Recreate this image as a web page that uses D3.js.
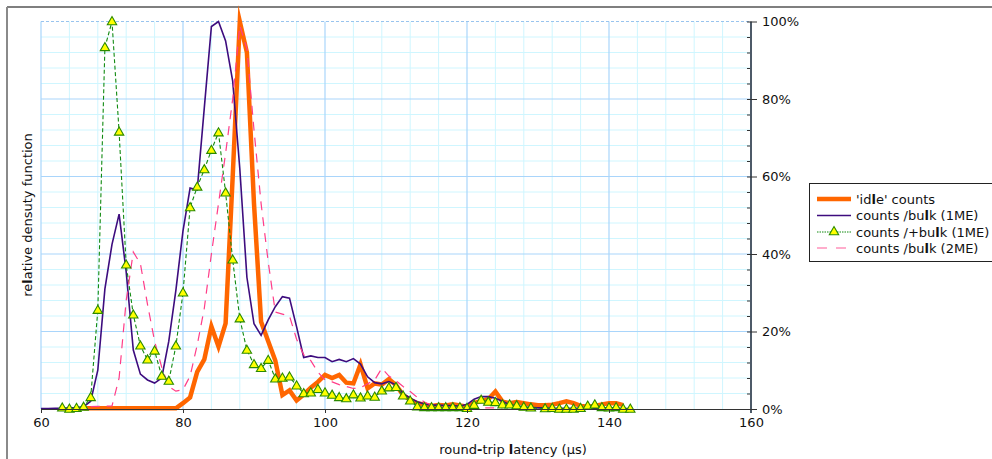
<!DOCTYPE html>
<html>
<head>
<meta charset="utf-8">
<script src="https://cdn.jsdelivr.net/npm/d3@7"></script>
<style>
  html, body { margin: 0; padding: 0; background: #fff; }
  svg { display: block; font-family: "DejaVu Sans", sans-serif; }
</style>
</head>
<body>
<svg id="chart" width="992" height="459"></svg>
<script>
// Latency bins, 1 µs wide, 60 … 143 µs
const latencyBins = d3.range(60, 144);

// Relative density (% of each series' peak) per bin; null = no sample
const idleCounts = [
  null, null, null, null, null, null,
  0.2, 0.2, 0.2, 0.2, 0.2, 0.2, 0.2, 0.2, 0.2, 0.2, 0.2, 0.2, 0.2, 0.2,
  1.5, 3, 9.6, 12.8, 21.3, 16.1, 22.1, 60, 100, 92,
  53, 22.5, 17.5, 12.5, 3.6, 4.8, 2.2, 3.7, 5.5, 7,
  8.8, 8, 8.8, 6.8, 6.6, 11.5, 5.3, 6.6, 6.3, 7.7,
  6.2, 3.6, 2.4, 1.5, 1.1, 0.8, 1, 0.9, 1.2, 0.9,
  0.6, 1.5, 2.1, 2.5, 4.5, 1.9, 1.5, 1.8, 1.5, 1.2,
  1, 1, 1.1, 1.5, 2, 1.5, 0.8, 0.6, 0.8, 1.2,
  1.5, 1.5, 1, null
];

const bulk1ME = [
  0.1, 0.1, 0.2, 0.2, 0.3, 0.4, 0.6, 2, 10, 31,
  42.5, 50.3, 35.4, 15.2, 9, 7.5, 6.7, 8, 17.5, 30.7,
  46, 57, 56.5, 77.7, 98.7, 100, 95, 84.6, 62, 34,
  22, 19, 23, 26.4, 29, 28.6, 21.2, 13.3, 13.7, 13.3,
  13.3, 12.2, 12.8, 12.2, 13, 11.6, 8.3, 6.8, 6.5, 7.1,
  6.2, 4, 2.8, 1.9, 1.3, 1, 1, 0.9, 0.9, 0.7,
  1.2, 2.5, 3.2, 3.2, 2.8, 2, 1.1, 0.8, 0.5, 0.4,
  0.3, 0.3, 0.2, 0.2, 0.2, 0.2, 0.2, 0.2, 0.2, 0.2,
  0.2, 0.1, 0.1, 0.1
];

const plusBulk1ME = [
  null, null, null, 0.3, 0, 0.2, 0.5, 3, 25.5, 93.3,
  100, 71.5, 37.2, 24.3, 16.3, 12.7, 15, 8.5, 7.2, 16.3,
  30, 52, 57.3, 61.8, 66.8, 71.3, 55.8, 38.5, 23.3, 15.2,
  11.5, 10.5, 12.6, 7.8, 8, 8.3, 6, 4, 4.2, 5.1,
  4.2, 3.6, 3, 2.7, 3.7, 2.9, 3.4, 3.1, 4.7, 5.5,
  5.6, 3.4, 2.1, 0.6, 0.4, 0.4, 0.4, 0.4, 0.4, 0.4,
  0.2, 1, 2.3, 1.8, 1.7, 1.1, 1.1, 0.9, 0.5, 0.3,
  null, 0.1, 0.2, 0, 0, 0, 0.2, 0.8, 1.1, 0.4,
  0.35, 0.4, 0, 0
];

const bulk2ME = [
  null, null, null, null, null, null, null, 0.6, 0.7, 0.7,
  0.8, 8, 28, 40.5, 37.5, 27, 17.5, 10.8, 5.8, 4.6,
  5, 8.5, 16.5, 26, 40, 53, 66, 80, 99, 93,
  72, 53, 38, 25, 24.5, 24, 18, 14, 12.5, 9.5,
  7.5, 7, 6.3, 5.8, 5.3, 5.5, 6.5, 7.5, 10.5, 8.5,
  7.3, 5.8, 4.5, 3, 1.8, 1, 0.6, 0.4, 0.3, 0.3,
  0.3, 0.3, 0.3, 0.3, 0.3, 0.3, null, null, null, null,
  null, null, null, null, null, null, null, null, null, null,
  null, null, null, null
];

const seriesNames = ["'idle' counts", "counts /bulk (1ME)", "counts /+bulk (1ME)", "counts /bulk (2ME)"];
const xTicks = [60, 80, 100, 120, 140, 160];
const yTicks = [0, 20, 40, 60, 80, 100];

const svg = d3.select("#chart");
const W = 992, H = 459;
const pLeft = 41, pRight = 751, pTop = 21.5, pBottom = 409;

const x = d3.scaleLinear().domain([60, 160]).range([pLeft, pRight]);
const y = d3.scaleLinear().domain([0, 100]).range([pBottom, pTop]);

// outer frame
svg.append("line").attr("x1", 7).attr("x2", W).attr("y1", 7).attr("y2", 7)
  .attr("stroke", "#555").attr("stroke-width", 1.5);
svg.append("line").attr("x1", 7).attr("x2", 7).attr("y1", 7).attr("y2", H)
  .attr("stroke", "#8a8a8a").attr("stroke-width", 2);

// grid
const grid = svg.append("g");
const minorX = d3.range(60, 161, 4).filter(v => v % 20 !== 0);
const minorY = d3.range(0, 101, 4).filter(v => v % 20 !== 0);
grid.selectAll(".mx").data(minorX).join("line")
  .attr("x1", d => x(d)).attr("x2", d => x(d)).attr("y1", pTop).attr("y2", pBottom)
  .attr("stroke", "#cff6ff").attr("stroke-width", 1);
grid.selectAll(".my").data(minorY).join("line")
  .attr("x1", pLeft).attr("x2", pRight).attr("y1", d => y(d)).attr("y2", d => y(d))
  .attr("stroke", "#cff6ff").attr("stroke-width", 1);
grid.selectAll(".Mx").data(xTicks.filter(v => v < 160)).join("line")
  .attr("x1", d => x(d)).attr("x2", d => x(d)).attr("y1", pTop).attr("y2", pBottom)
  .attr("stroke", "#a9d5fb").attr("stroke-width", 1.2);
grid.selectAll(".My").data(yTicks.filter(v => v > 0 && v < 100)).join("line")
  .attr("x1", pLeft).attr("x2", pRight).attr("y1", d => y(d)).attr("y2", d => y(d))
  .attr("stroke", "#a9d5fb").attr("stroke-width", 1.2);
grid.append("line").attr("x1", pLeft).attr("x2", pRight).attr("y1", y(100)).attr("y2", y(100))
  .attr("stroke", "#99c4ee").attr("stroke-width", 1.2).attr("stroke-dasharray", "3,2");

// series
const pts = vals => latencyBins.map((b, i) => [b, vals[i]]).filter(p => p[1] != null);
const line = d3.line().x(d => x(d[0])).y(d => y(d[1]));

const plot = svg.append("g");
plot.append("path").attr("d", line(pts(idleCounts)))
  .attr("fill", "none").attr("stroke", "#ff6600").attr("stroke-width", 4.5)
  .attr("stroke-linejoin", "miter").attr("stroke-miterlimit", 10);
plot.append("path").attr("d", line(pts(bulk1ME)))
  .attr("fill", "none").attr("stroke", "#3d0c7e").attr("stroke-width", 1.6);
plot.append("path").attr("d", line(pts(plusBulk1ME)))
  .attr("fill", "none").attr("stroke", "#118a11").attr("stroke-width", 1.1)
  .attr("stroke-dasharray", "4,2.5");
plot.append("path").attr("d", line(pts(bulk2ME)))
  .attr("fill", "none").attr("stroke", "#ff3d88").attr("stroke-width", 1.2)
  .attr("stroke-dasharray", "9,7");

const tri = d3.symbol().type(d3.symbolTriangle).size(38);
plot.selectAll(".mk").data(pts(plusBulk1ME)).join("path")
  .attr("d", tri)
  .attr("transform", d => `translate(${x(d[0])},${y(d[1]) + 0.5})`)
  .attr("fill", "#ffff00").attr("stroke", "#2b8a00").attr("stroke-width", 1.1);

// bottom axis
const xAxis = svg.append("g").attr("transform", `translate(0,${pBottom})`)
  .call(d3.axisBottom(x).tickValues(xTicks).tickSize(4).tickSizeOuter(0).tickPadding(5));
xAxis.select(".domain").attr("stroke", "#333");
xAxis.selectAll(".tick line").attr("stroke", "#333");
xAxis.selectAll("text").attr("font-size", 13).attr("fill", "#111")
  .attr("font-family", "DejaVu Sans, sans-serif");

// right axis: minor ticks inward, major ticks across
svg.append("g").attr("transform", `translate(${pRight},0)`)
  .call(d3.axisLeft(y).tickValues(minorY).tickSize(4).tickSizeOuter(0).tickFormat(""))
  .call(g => g.select(".domain").remove())
  .selectAll(".tick line").attr("stroke", "#333");
const yAxis = svg.append("g").attr("transform", `translate(${pRight},0)`)
  .call(d3.axisRight(y).tickValues(yTicks).tickSize(6).tickSizeOuter(0)
    .tickFormat(d => d + "%").tickPadding(5));
yAxis.select(".domain").attr("stroke", "#4d5a68").attr("stroke-width", 2)
  .attr("d", `M0,${pTop}V${pBottom + 4}`);
yAxis.selectAll(".tick line").attr("stroke", "#333").attr("x1", -4);
yAxis.selectAll("text").attr("font-size", 13).attr("fill", "#111")
  .attr("font-family", "DejaVu Sans, sans-serif");

// text with the typeface's heavy "l" and hyphen
function richText(sel, str) {
  const parts = str.match(/[l\-]+|[^l\-]+/g);
  sel.selectAll("tspan").data(parts).join("tspan")
    .text(d => d)
    .attr("font-weight", d => /^[l\-]+$/.test(d) ? "bold" : null);
  return sel;
}

// axis titles
richText(svg.append("text").attr("x", 513).attr("y", 454).attr("text-anchor", "middle")
  .attr("font-size", 13).attr("fill", "#111"), "round-trip latency (µs)");
richText(svg.append("text").attr("transform", "translate(32,215) rotate(-90)")
  .attr("text-anchor", "middle").attr("font-size", 13).attr("fill", "#111"),
  "relative densuty function");

// legend
const lg = svg.append("g");
lg.append("rect").attr("x", 809.5).attr("y", 183.5).attr("width", 200).attr("height", 78)
  .attr("fill", "#fff").attr("stroke", "#222").attr("stroke-width", 1);
const ly = [199, 215.5, 232, 248];
lg.append("line").attr("x1", 817).attr("x2", 851).attr("y1", ly[0]).attr("y2", ly[0])
  .attr("stroke", "#ff6600").attr("stroke-width", 4.5);
lg.append("line").attr("x1", 817).attr("x2", 851).attr("y1", ly[1]).attr("y2", ly[1])
  .attr("stroke", "#3d0c7e").attr("stroke-width", 1.6);
lg.append("line").attr("x1", 817).attr("x2", 851).attr("y1", ly[2]).attr("y2", ly[2])
  .attr("stroke", "#118a11").attr("stroke-width", 1).attr("stroke-dasharray", "1.5,1");
lg.append("path").attr("d", tri).attr("transform", `translate(834,${ly[2]})`)
  .attr("fill", "#ffff00").attr("stroke", "#2b8a00").attr("stroke-width", 1.1);
lg.append("line").attr("x1", 817).attr("x2", 851).attr("y1", ly[3]).attr("y2", ly[3])
  .attr("stroke", "#ff5c9a").attr("stroke-width", 1.2).attr("stroke-dasharray", "10,9");
seriesNames.forEach((n, i) => {
  richText(lg.append("text").attr("x", 856).attr("y", ly[i] + 4.5)
    .attr("font-size", 13).attr("fill", "#111"), n);
});
</script>
</body>
</html>
